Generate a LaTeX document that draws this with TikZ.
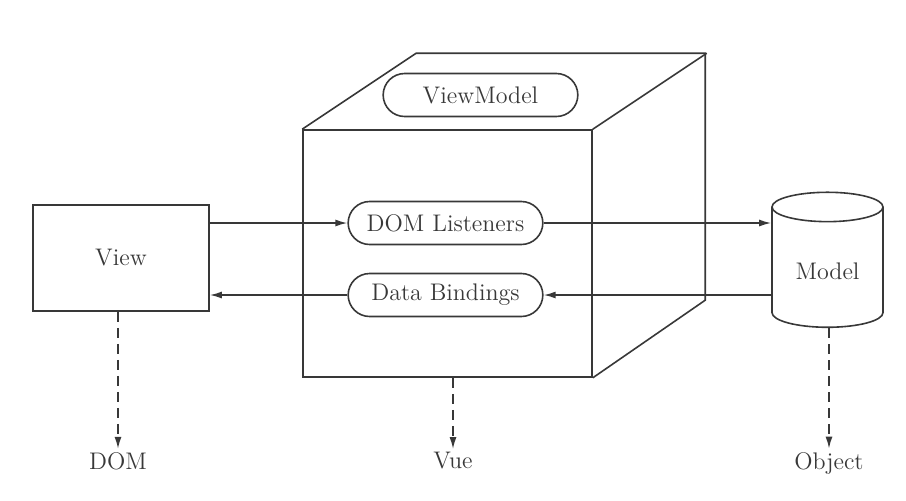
\documentclass[tikz,border=0pt]{standalone}
\usetikzlibrary{arrows.meta,shapes.geometric,shapes.misc}
\definecolor{inkgray}{HTML}{383838}
\begin{document}
\begin{tikzpicture}[x=0.5pt,y=-0.5pt,color=inkgray,line width=0.8pt,
        font=\fontsize{12}{14}\selectfont,
        box/.style={draw, minimum width=88pt, minimum height=53pt},
        face/.style={draw, minimum width=144.5pt, minimum height=123.5pt},
        pill/.style={draw, rounded rectangle, minimum width=104pt, minimum height=21.5pt},
        store/.style={draw, cylinder, shape border rotate=90, aspect=0.38,
            minimum width=55.5pt, minimum height=67.5pt},
        flow/.style={-{Latex[length=6pt,width=3.5pt]}},
        dep/.style={flow, dash pattern=on 5pt off 3pt}]
    \useasboundingbox (0,0) rectangle (906,500);

    \node[face] (vm) at (447.5,253.5) {};
    \draw (vm.north west) -- ++(114,-76) -- ++(289,0) -- ++(0,247) -- (vm.south east);
    \draw (vm.north east) -- ++(114,-76);

    \node[pill] (vmodel) at (480.5,95) {ViewModel};
    \node[pill] (dl) at (445.5,223) {DOM Listeners};
    \node[pill] (db) at (445.5,295) {Data Bindings};
    \node[box] (view) at (121,258) {View};
    \node[store] (mdl) at (827.5,271) {Model};

    \node (dom) at (118,461) {DOM};
    \node (vue) at (453,461) {Vue};
    \node (obj) at (829,463) {Object};

    \draw[flow] (view.east |- dl.west) -- (dl.west);
    \draw[flow] (dl.east) -- (dl.east -| mdl.west);
    \draw[flow] (db.east -| mdl.west) -- (db.east);
    \draw[flow] (db.west) -- (db.west -| view.east);

    \foreach \a/\b in {view/dom, vm/vue, mdl/obj}
        \draw[dep] (\b.north |- \a.south) -- ([yshift=-2pt]\b.north);
\end{tikzpicture}
\end{document}
